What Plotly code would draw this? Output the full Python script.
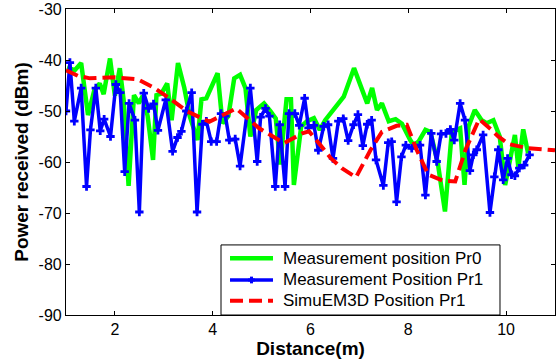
import plotly.graph_objects as go

# ---- data ----
pr0_x = [1.02, 1.18, 1.31, 1.45, 1.58, 1.69, 1.77, 1.90, 2.00, 2.10, 2.18, 2.28, 2.39, 2.49, 2.57,
         2.67, 2.78, 2.85, 2.95, 3.07, 3.16, 3.29, 3.42, 3.53, 3.69, 3.77, 3.87, 4.10, 4.20, 4.32,
         4.44, 4.56, 4.67, 4.77, 4.89, 5.05, 5.18, 5.29, 5.38, 5.51, 5.60, 5.66, 5.81, 5.93, 6.07,
         6.19, 6.30, 6.44, 6.58, 6.68, 6.89, 7.02, 7.16, 7.26, 7.36, 7.46, 7.60, 7.74, 7.87, 8.04,
         8.11, 8.21, 8.35, 8.45, 8.60, 8.75, 8.89, 9.06, 9.15, 9.23, 9.36, 9.50, 9.60, 9.74, 9.87,
         9.98, 10.18, 10.25, 10.35, 10.45]
pr0_y = [-41.5, -42, -40.6, -50.8, -45.9, -44.6, -46.7, -39.7, -47, -41.6, -48, -64.7, -46.9, -48.5, -47,
         -51, -59.6, -46.9, -46.6, -44.6, -51.8, -40.6, -45.5, -51, -55.7, -47.7, -47.5, -42.6, -52.4, -51,
         -43.6, -42.9, -45.5, -55, -49.8, -48.5, -50, -51.5, -60.5, -47.7, -47.7, -64.5, -53, -52, -51.4,
         -53.7, -51.8, -50, -48.2, -47.2, -41.6, -45.2, -48.5, -45.5, -49.8, -48.5, -52, -51.6, -52.5, -55.7,
         -56.7, -56, -53.7, -54.1, -60, -69.7, -54.1, -53.4, -64.5, -53.1, -49.8, -51.8, -52.4, -51.8, -55,
         -64.5, -54.7, -61, -53.6, -58.3]

pr1_x = [1.00, 1.08, 1.17, 1.31, 1.42, 1.50, 1.61, 1.70, 1.78, 1.91, 2.02, 2.11, 2.20, 2.29, 2.41,
         2.50, 2.59, 2.69, 2.79, 2.88, 3.04, 3.18, 3.28, 3.36, 3.46, 3.57, 3.68, 3.79, 3.87, 3.97,
         4.08, 4.17, 4.26, 4.34, 4.46, 4.56, 4.77, 4.91, 4.98, 5.08, 5.16, 5.28, 5.37, 5.48, 5.56,
         5.68, 5.77, 5.88, 5.96, 6.07, 6.16, 6.27, 6.36, 6.46, 6.57, 6.67, 6.77, 6.88, 6.97, 7.07,
         7.16, 7.25, 7.34, 7.49, 7.59, 7.66, 7.76, 7.86, 7.95, 8.07, 8.24, 8.35, 8.47, 8.58, 8.67,
         8.77, 8.86, 8.94, 9.06, 9.16, 9.26, 9.33, 9.40, 9.53, 9.67, 9.76, 9.84, 9.94, 10.03, 10.11,
         10.18, 10.27, 10.37, 10.48]
pr1_y = [-50, -40.5, -52, -45.5, -64.8, -53.7, -45.5, -53.9, -51.6, -55, -44.8, -46.4, -61.9, -48.5, -51.8,
         -69.8, -46.5, -49.5, -48.6, -53.8, -47.8, -57.9, -55.2, -54, -50, -46.4, -69.8, -52.6, -52, -56,
         -56, -50.5, -51, -55.7, -55.5, -60.8, -45.5, -59.9, -51.2, -49.5, -51, -64.8, -52.7, -64.8, -50.5,
         -50.5, -52.8, -47.5, -53.3, -52.8, -57.7, -53, -52.7, -59.3, -52, -51.5, -55.8, -52.7, -50.7, -56.8,
         -52.6, -51.8, -59.6, -64.6, -56.2, -56, -67.8, -59, -56.7, -57.3, -56.7, -66.5, -54.4, -59.9, -54.5,
         -54.4, -53.6, -55.7, -48.5, -51.8, -61.7, -58.6, -57.6, -54.7, -69.9, -62.9, -57.6, -63.5, -59.3, -62.5,
         -62.7, -61.2, -60.6, -58.6]

sim_x = [1.00, 1.24, 1.49, 2.00, 2.47, 2.81, 3.16, 3.48, 3.93, 4.48, 4.95, 5.46, 5.83, 5.97, 6.17,
         6.42, 6.64, 6.93, 7.23, 7.46, 7.76, 7.97, 8.17, 8.41, 8.72, 8.96, 9.17, 9.45, 9.70, 9.84,
         10.06, 10.45, 11.0]
sim_y = [-42, -43.1, -43.6, -43.4, -43.8, -45.5, -47.8, -50.1, -52.1, -49.5, -53.4, -56.3, -54.4, -54, -56.3,
         -59.3, -61.2, -63, -57.6, -54.1, -52.9, -52.7, -57.6, -62.5, -63.7, -63.8, -57.6, -51.6, -53.7, -55,
         -56.5, -57.3, -57.7]

series_names = ["Measurement position Pr0", "Measurement Position Pr1", "SimuEM3D Position Pr1"]
x_ticks = [2, 4, 6, 8, 10]
y_ticks = [-30, -40, -50, -60, -70, -80, -90]

FONT = "Liberation Sans, Arial, sans-serif"
GREEN, BLUE, RED = "rgb(0,255,0)", "rgb(0,0,255)", "rgb(255,0,0)"

fig = go.Figure()
fig.add_trace(go.Scatter(x=pr0_x, y=pr0_y, mode="lines", name=series_names[0],
                         line=dict(color=GREEN, width=4.5)))
fig.add_trace(go.Scatter(x=pr1_x, y=pr1_y, mode="lines+markers", name=series_names[1],
                         line=dict(color=BLUE, width=3.5),
                         marker=dict(symbol="cross", size=7, color=BLUE)))
fig.add_trace(go.Scatter(x=sim_x, y=sim_y, mode="lines", name=series_names[2],
                         line=dict(color=RED, width=4, dash="13px,6px")))

axis_common = dict(showline=True, linecolor="black", linewidth=1.2, mirror="ticks",
                   ticks="inside", ticklen=4, tickcolor="black", showgrid=False, zeroline=False,
                   automargin=False,
                   tickfont=dict(family=FONT, size=16, color="black"))

fig.update_xaxes(range=[1, 11], tickvals=x_ticks, ticktext=[str(v) for v in x_ticks],
                 title=dict(text="<b>Distance(m)</b>", font=dict(family=FONT, size=19, color="black"),
                            standoff=0),
                 **axis_common)
fig.update_yaxes(range=[-90, -30], tickvals=y_ticks, ticktext=[str(v) for v in y_ticks],
                 title=dict(text="<b>Power received (dBm)</b>", font=dict(family=FONT, size=19, color="black"),
                            standoff=4),
                 **axis_common)

# ---- legend box drawn in paper coordinates (matches the boxed legend of the reference) ----
lx0, lx1, ly0, ly1 = 0.317, 0.8875, 0.0, 0.229
sx0, sx1, tx = 0.3354, 0.4233, 0.439
rows = [0.1853, 0.1144, 0.0467]
shapes = [dict(type="rect", xref="paper", yref="paper", x0=lx0, x1=lx1, y0=ly0, y1=ly1,
               line=dict(color="black", width=1), fillcolor="white", layer="above")]
styles = [dict(color=GREEN, width=4.5), dict(color=BLUE, width=3.5),
          dict(color=RED, width=4, dash="13px,6px")]
for ry, st in zip(rows, styles):
    shapes.append(dict(type="line", xref="paper", yref="paper", x0=sx0, x1=sx1, y0=ry, y1=ry,
                       line=st, layer="above"))
# small cross marker on the blue sample
mx = (sx0 + sx1) / 2
shapes.append(dict(type="line", xref="paper", yref="paper", x0=mx - 0.007, x1=mx + 0.007,
                   y0=rows[1], y1=rows[1], line=dict(color=BLUE, width=3), layer="above"))
shapes.append(dict(type="line", xref="paper", yref="paper", x0=mx, x1=mx,
                   y0=rows[1] - 0.011, y1=rows[1] + 0.011, line=dict(color=BLUE, width=3), layer="above"))

annotations = [dict(text=name, xref="paper", yref="paper", x=tx, y=ry, xanchor="left", yanchor="middle",
                    showarrow=False, font=dict(family=FONT, size=17, color="black"))
               for name, ry in zip(series_names, rows)]

fig.update_layout(
    width=557, height=359,
    margin=dict(l=66, r=2, t=9, b=44),
    paper_bgcolor="white", plot_bgcolor="white",
    showlegend=False,
    shapes=shapes, annotations=annotations,
)

fig.write_html("out.html", config={"displayModeBar": False},
               post_script="document.body.style.margin='0px';")
